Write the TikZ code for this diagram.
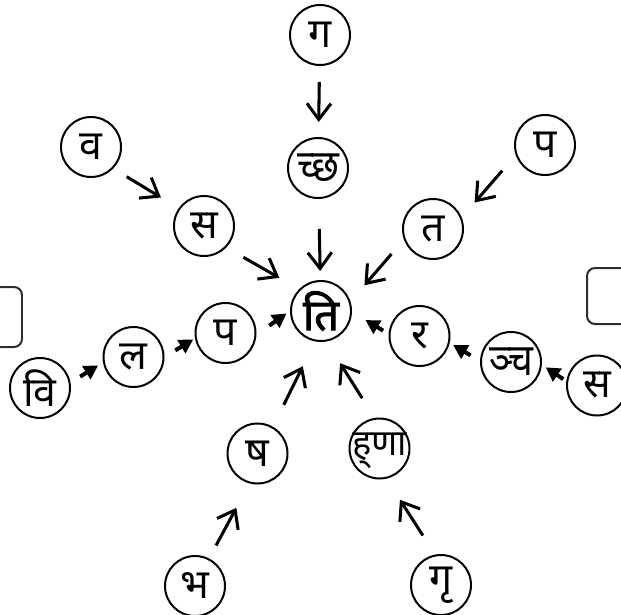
\documentclass[tikz,border=0pt]{standalone}
\usepackage{fontspec}
\usetikzlibrary{arrows.meta}
\newfontfamily\devfont[Script=Devanagari]{Noto Sans}
\newfontfamily\devbold[Script=Devanagari, FakeBold=2.2]{Noto Sans}
\newfontfamily\devnarrow[Script=Devanagari, FakeStretch=0.88]{Noto Sans}

\begin{document}
\begin{tikzpicture}[x=0.03cm, y=-0.03cm,
    letter/.style={circle, draw, line width=1.7pt, minimum size=1.8cm, inner sep=0pt,
        font=\devfont\fontsize{35}{38}\selectfont},
    narrow/.style={letter, inner sep=-12pt, font=\devnarrow\fontsize{38}{40}\selectfont},
    flow/.style={line width=2.6pt, -{Straight Barb[length=0.48cm, width=0.72cm]}},
    push/.style={line width=3.4pt, -{Triangle[length=0.42cm, width=0.45cm]}}]
    % Define colors
    \definecolor{boxgray}{RGB}{45,45,45}

    \useasboundingbox (0,0) rectangle (621,614);
    \clip (0,0) rectangle (621,614);

    % Boxes cut off at the sides
    \draw[boxgray, line width=1.7pt, rounded corners=0.24cm] (-40,287) rectangle (22,347);
    \draw[boxgray, line width=1.7pt, rounded corners=0.24cm] (587,268) rectangle (660,324);

    % Centre
    \node[letter, font=\devbold\fontsize{37}{40}\selectfont] (ti) at (321,311) {ति};

    % Top: gacchati
    \node[letter] (gam1) at (320,35) {ग};
    \node[narrow] (gam2) at (318,168) {च्छ};
    \draw[flow, shorten <=0.48cm, shorten >=0.45cm] (gam1) -- (gam2);
    \draw[flow, shorten <=0.9cm, shorten >=0.27cm] (gam2) -- (ti);

    % Upper left: vasati
    \node[letter] (vas1) at (91,147) {व};
    \node[letter] (vas2) at (204,226) {स};
    \draw[flow, shorten <=0.47cm, shorten >=0.62cm] (vas1.-44) -- (vas2.145);
    \draw[flow, shorten <=0.59cm, shorten >=0.68cm] (vas2.-44) -- (ti.135);

    % Upper right: patati
    \node[letter] (pat1) at (545,145) {प};
    \node[letter] (pat2) at (433,229) {त};
    \draw[flow, shorten <=0.62cm, shorten >=0.59cm] (pat1.199) -- (pat2.22);
    \draw[flow, shorten <=0.57cm, shorten >=0.64cm] (pat2.200) -- (ti.18);

    % Left: vilapati
    \node[letter] (vil1) at (40,388) {वि};
    \node[letter] (vil2) at (133.5,357) {ल};
    \node[letter] (vil3) at (225.5,333) {प};
    \draw[push, shorten <=0.34cm, shorten >=0.17cm] (vil1.10) -- (vil2.190);
    \draw[push, shorten <=0.38cm, shorten >=0.06cm] (vil2.0) -- (vil3.190);
    \draw[push, shorten <=0.47cm, shorten >=0.13cm] (vil3.357) -- (ti.180);

    % Right: sancarati
    \node[letter] (sam1) at (597,385.5) {स};
    \node[narrow] (sam2) at (511,362) {ञ्च};
    \node[letter] (sam3) at (419.5,336) {र};
    \draw[push, shorten <=0.11cm, shorten >=0.14cm] (sam1.172) -- (sam2.355);
    \draw[push, shorten <=0.33cm, shorten >=0.12cm] (sam2.178) -- (sam3.347);
    \draw[push, shorten <=0.19cm, shorten >=0.47cm] (sam3.176) -- (ti.358);

    % Bottom left: bhasati
    \node[letter] (bha1) at (195,586) {भ};
    \node[letter] (bha2) at (257.5,453.5) {ष};
    \draw[flow, shorten <=0.44cm, shorten >=0.83cm] (bha1.63) -- (bha2.255);
    \draw[flow, shorten <=0.73cm, shorten >=0.83cm] (bha2.60) -- (ti.259);

    % Bottom right: grhnati
    \node[letter] (gra1) at (441,585) {गृ};
    \node[narrow, text height=1.15em, text depth=0pt,
        font=\devfont\fontsize{31}{34}\selectfont] (gra2) at (379.5,448.5)
        {\mbox{ह्}\mbox{णा}};
    \draw[flow, shorten <=0.68cm, shorten >=0.75cm] (gra1.101) -- (gra2.283);
    \draw[flow, shorten <=0.7cm, shorten >=0.77cm] (gra2.99) -- (ti.280);
\end{tikzpicture}
\end{document}
